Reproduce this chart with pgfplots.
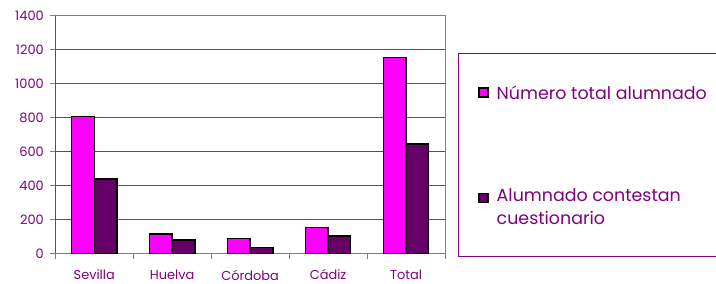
\documentclass[border=0pt]{standalone}
\usepackage{pgfplots}
\pgfplotsset{compat=1.18}
\usepackage{fontspec}
\setmainfont{Poppins}
\definecolor{txt}{HTML}{800080}
\definecolor{pinkbar}{HTML}{FF00FF}
\definecolor{darkbar}{HTML}{660066}
\definecolor{gridc}{HTML}{84308A}
\definecolor{yaxisc}{HTML}{333399}
\begin{document}
\begin{tikzpicture}
\clip (0bp,0bp) rectangle (716bp,284bp);
\begin{axis}[
  at={(55.3bp,30.7bp)}, anchor=south west,
  scale only axis, width=389.7bp, height=237.6bp,
  xmin=-0.5, xmax=4.5, ymin=0, ymax=1400,
  ybar=0pt, bar width=0.29,
  xtick={0,1,2,3,4},
  xticklabels={Sevilla,Huelva,Córdoba,Cádiz,Total},
  minor xtick={-0.5,0.5,1.5,2.5,3.5,4.5},
  ytick={0,200,...,1400},
  major x tick style={draw=none},
  minor x tick style={draw=gray, line width=0.8bp},
  minor tick length=6bp,
  major tick length=5bp,
  y tick style={draw=gray, line width=0.8bp},
  tick pos=left, tick align=outside,
  ymajorgrids, grid style={draw=gridc, line width=0.9bp},
  axis line style={draw=gray, line width=1bp},
  /pgf/number format/assume math mode=true,
  /pgf/number format/1000 sep={},
  ticklabel style={text=txt, font=\fontsize{13}{15}\selectfont},
  xticklabel style={yshift=-8bp},
  yticklabel style={xshift=-3bp},
  legend style={at={(1.0334,0.843)}, anchor=north west, draw=txt, line width=0.8bp,
    font=\fontsize{17.5}{23}\selectfont, text=txt, inner xsep=20bp, inner ysep=30bp,
    row sep=84bp, /tikz/every odd column/.append style={column sep=6bp}},
  legend cell align=left,
  legend image code/.code={\draw[#1, draw=black, line width=1.3bp] (0bp,-4bp) rectangle (9bp,5bp);},
]
\addplot[fill=pinkbar, draw=black, line width=1.5bp] coordinates {(0,805) (1,114) (2,86) (3,153) (4,1155)};
\addlegendentry{Número total alumnado}
\addplot[fill=darkbar, draw=black, line width=1.5bp,
  legend image code/.code={\draw[fill=darkbar, draw=black, line width=1.3bp] (0bp,4bp) rectangle (9bp,13bp);}]
  coordinates {(0,438) (1,78) (2,35) (3,102) (4,645)};
\addlegendentry[text depth=23bp]{\vtop{\hbox{Alumnado contestan}\hbox{cuestionario}}}
\draw[yaxisc, line width=1.2bp] (rel axis cs:0,0) -- (rel axis cs:0,1);
\end{axis}
\end{tikzpicture}
\end{document}
